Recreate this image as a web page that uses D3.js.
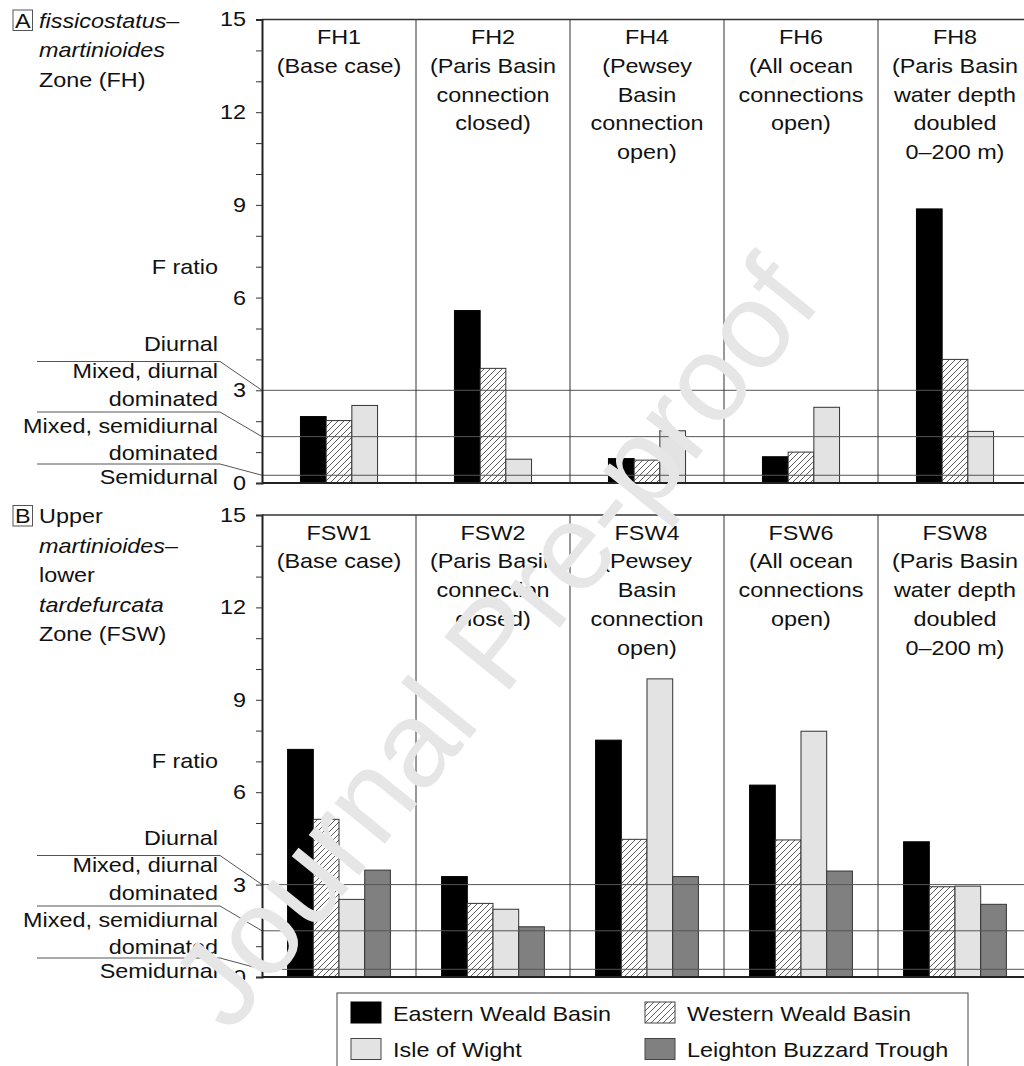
<!DOCTYPE html>
<html>
<head>
<meta charset="utf-8">
<script src="https://cdn.jsdelivr.net/npm/d3@7"></script>
<style>
  html, body { margin: 0; padding: 0; background: #fff; }
  svg { display: block; font-family: "Liberation Sans", Arial, sans-serif; }
</style>
</head>
<body>
<svg id="chart" width="1024" height="1066"></svg>
<script>
// ---- data ----
const seriesNames = ["Eastern Weald Basin", "Western Weald Basin", "Isle of Wight", "Leighton Buzzard Trough"];
const scenariosA = ["FH1", "FH2", "FH4", "FH6", "FH8"];
const scenariosB = ["FSW1", "FSW2", "FSW4", "FSW6", "FSW8"];
const captions = [
    ["(Base case)"],
    ["(Paris Basin", "connection", "closed)"],
    ["(Pewsey", "Basin", "connection", "open)"],
    ["(All ocean", "connections", "open)"],
    ["(Paris Basin", "water depth", "doubled", "0–200 m)"]
];
// panel A (FH) - no Leighton Buzzard Trough values
const eastA  = [2.15, 5.58, 0.79, 0.85, 8.87];
const westA  = [2.02, 3.71, 0.74, 1.00, 4.00];
const wightA = [2.51, 0.77, 1.69, 2.45, 1.67];
// panel B (FSW)
const eastB     = [7.39, 3.26, 7.69, 6.23, 4.39];
const westB     = [5.12, 2.39, 4.47, 4.45, 2.93];
const wightB    = [2.52, 2.20, 9.68, 7.98, 2.95];
const leightonB = [3.47, 1.63, 3.26, 3.44, 2.36];
// tidal form factor class boundaries
const thresholds = [3, 1.5, 0.25];
const yTicks = d3.range(0, 16);
const yLabels = [0, 3, 6, 9, 12, 15];

// ---- layout ----
const SX = 1.17;          // text in the source is stretched horizontally
const FS = 20;
const axisX = 262, panelW = 154, barW = 25.7;
const fills = ["#000", "url(#hatch)", "#e3e3e3", "#808080"];

const svg = d3.select("#chart");
const defs = svg.append("defs");
const pat = defs.append("pattern").attr("id", "hatch")
    .attr("patternUnits", "userSpaceOnUse").attr("width", 6).attr("height", 6);
pat.append("rect").attr("width", 6).attr("height", 6).attr("fill", "#fff");
pat.append("path").attr("d", "M0,6 L6,0 M-1,1 L1,-1 M5,7 L7,5")
    .attr("stroke", "#333").attr("stroke-width", 0.8);

function txt(g, x, y, str, anchor) {
    return g.append("text")
        .attr("transform", `translate(${x},${y}) scale(${SX},1)`)
        .attr("text-anchor", anchor || "start")
        .attr("font-size", FS).attr("fill", "#111")
        .text(str);
}

const panel = (cfg) => {
    const g = svg.append("g");
    const y = d3.scaleLinear().domain([0, 15]).range([cfg.zeroY, cfg.topY]);
    const x = d3.scaleBand().domain(cfg.scenarios).range([axisX, axisX + panelW * 5]);

    // bars
    cfg.scenarios.forEach((s, i) => {
        const present = cfg.values.map((v, k) => ({ k: k, v: v[i] }));
        const inner = d3.scaleBand().domain(present.map(d => d.k))
            .range([-present.length * barW / 2, present.length * barW / 2]);
        g.append("g")
            .attr("transform", `translate(${x(s) + x.bandwidth() / 2},0)`)
            .selectAll("rect").data(present).join("rect")
            .attr("x", d => inner(d.k))
            .attr("width", inner.bandwidth())
            .attr("y", d => y(d.v))
            .attr("height", d => y(0) - y(d.v))
            .attr("fill", d => fills[d.k])
            .attr("stroke", d => d.k === 0 ? "#000" : "#333")
            .attr("stroke-width", 1);
    });

    // class boundary lines
    const leaderY = [121.5, 71, 19];
    thresholds.forEach((t, i) => {
        g.append("line").attr("x1", axisX).attr("x2", 1024)
            .attr("y1", y(t)).attr("y2", y(t))
            .attr("stroke", "#555").attr("stroke-width", 1);
        g.append("path")
            .attr("d", `M37,${cfg.zeroY - leaderY[i]} L220,${cfg.zeroY - leaderY[i]} L${axisX},${y(t)}`)
            .attr("fill", "none").attr("stroke", "#555").attr("stroke-width", 1);
    });
    const classText = ["Diurnal", "Mixed, diurnal", "dominated", "Mixed, semidiurnal", "dominated", "Semidurnal"];
    const classOff = [132, 105, 77, 50, 23, -1];
    classText.forEach((c, i) => txt(g, 218, cfg.zeroY - classOff[i], c, "end"));

    // dividers
    cfg.scenarios.slice(1).forEach(s => {
        g.append("line").attr("x1", x(s)).attr("x2", x(s))
            .attr("y1", cfg.topY).attr("y2", cfg.zeroY)
            .attr("stroke", "#333").attr("stroke-width", 1);
    });
    // top frame
    g.append("line").attr("x1", axisX).attr("x2", 1024)
        .attr("y1", cfg.topY).attr("y2", cfg.topY)
        .attr("stroke", "#333").attr("stroke-width", 1.5);
    // bottom
    g.append("line").attr("x1", axisX).attr("x2", 1024)
        .attr("y1", cfg.zeroY).attr("y2", cfg.zeroY)
        .attr("stroke", "#222").attr("stroke-width", 2);

    // y axis
    const ax = g.append("g").attr("transform", `translate(${axisX},0)`)
        .call(d3.axisLeft(y).tickValues(yTicks).tickSize(6).tickPadding(10)
            .tickFormat(d => yLabels.includes(d) ? d : ""));
    ax.select(".domain").attr("stroke", "#222").attr("stroke-width", 2);
    ax.selectAll(".tick line").attr("stroke", "#333");
    ax.selectAll(".tick text")
        .attr("font-size", FS).attr("font-family", "Liberation Sans, Arial, sans-serif")
        .attr("fill", "#111")
        .attr("x", -16 / SX)
        .attr("transform", `scale(${SX},1)`);

    txt(g, 218, y(7) + 7, "F ratio", "end");

    // scenario titles
    cfg.scenarios.forEach((s, i) => {
        const lines = [s].concat(captions[i]);
        lines.forEach((l, j) => txt(g, x(s) + x.bandwidth() / 2, cfg.topY + 24.5 + j * 28.8, l, "middle"));
    });

    // panel letter and zone label
    g.append("rect").attr("x", 13).attr("y", cfg.topY - 9.5)
        .attr("width", 19.5).attr("height", 20.5)
        .attr("fill", "none").attr("stroke", "#555").attr("stroke-width", 1);
    g.append("text").attr("transform", `translate(22.8,${cfg.topY + 8}) scale(${SX},1)`)
        .attr("text-anchor", "middle").attr("font-size", FS).attr("fill", "#111").text(cfg.letter);
    cfg.zone.forEach((parts, j) => {
        const t = g.append("text")
            .attr("transform", `translate(39,${cfg.topY + 8 + j * 29.6}) scale(${SX},1)`)
            .attr("font-size", FS).attr("fill", "#111");
        parts.forEach(p => t.append("tspan").attr("font-style", p[1] ? "italic" : "normal").text(p[0]));
    });
};

panel({
    scenarios: scenariosA, values: [eastA, westA, wightA],
    topY: 19.5, zeroY: 483, letter: "A",
    zone: [[["fissicostatus", 1], ["–", 0]], [["martinioides", 1]], [["Zone (FH)", 0]]]
});
panel({
    scenarios: scenariosB, values: [eastB, westB, wightB, leightonB],
    topY: 515, zeroY: 977, letter: "B",
    zone: [[["Upper", 0]], [["martinioides", 1], ["–", 0]], [["lower", 0]], [["tardefurcata", 1]], [["Zone (FSW)", 0]]]
});

// ---- legend ----
const lg = svg.append("g");
lg.append("rect").attr("x", 337).attr("y", 993).attr("width", 631).attr("height", 110)
    .attr("fill", "#fff").attr("stroke", "#444").attr("stroke-width", 1);
const legPos = [[351, 1002], [645, 1002], [351, 1038.5], [645, 1038.5]];
seriesNames.forEach((n, k) => {
    const [lx, ly] = legPos[k];
    lg.append("rect").attr("x", lx).attr("y", ly).attr("width", 30).attr("height", 21)
        .attr("fill", fills[k]).attr("stroke", k === 0 ? "#000" : "#444").attr("stroke-width", 1);
    txt(lg, lx + 42, ly + 18.5, n, "start");
});

// ---- watermark ----
svg.append("text")
    .attr("transform", "translate(494,642) rotate(-51)")
    .attr("text-anchor", "middle").attr("dominant-baseline", "central")
    .attr("font-size", 122).attr("fill", "#e6e6e6")
    .text("Journal Pre-proof");
</script>
</body>
</html>
